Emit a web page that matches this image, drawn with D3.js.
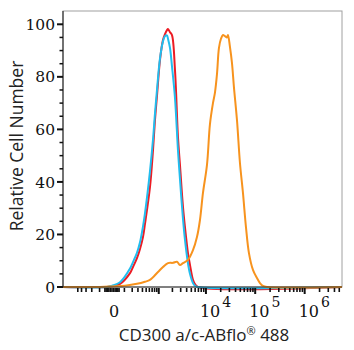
<!DOCTYPE html>
<html>
<head>
<meta charset="utf-8">
<script src="https://cdn.jsdelivr.net/npm/d3@7"></script>
<style>
  html, body { margin: 0; padding: 0; background: #fff; }
  svg { display: block; }
</style>
</head>
<body>
<svg id="chart" width="354" height="350"></svg>
<script>
// ---------- data (fluorescence intensity vs relative cell number) ----------
const controlX = [-1122, -34, 0, 58, 168, 212, 281, 343, 413, 466, 621, 734, 818, 910, 1066, 1244, 1379, 1524, 1604, 1773, 1958, 2270, 2629, 2898, 3350, 3689, 4261, 4689, 5411, 5948, 6861, 5680000];
const redY = [0, 0, 0.3, 1.2, 5.3, 7.6, 11, 14.5, 19, 24, 38, 52, 63.6, 72.7, 86.4, 94, 96.3, 97.8, 98.2, 97, 95.9, 82.6, 57, 46.4, 30.5, 22.8, 12.9, 8.4, 2.7, 1.1, 0, 0];
const blueY = [0, 0, 0.5, 1.8, 7, 9.5, 13, 17, 23, 28, 44, 56, 66, 75, 87, 93.5, 95.5, 95.8, 94.5, 91, 84, 72, 52, 41, 26, 18, 9, 5, 1.5, 0.5, 0, 0];

const stainedX = [-1122, -96, 0, 106, 281, 466, 621, 960, 1244, 1604, 2057, 2503, 2898, 3350, 4261, 5411, 6541, 7543, 8690, 10500, 12080, 13910, 15280, 16790, 18430, 20250, 22230, 24400, 26800, 28070, 30820, 33840, 37150, 42750, 49160, 56540, 65050, 74780, 90120, 108550, 124850, 143600, 172900, 5680000];
const orangeY = [0, 0, 0.2, 0.5, 1.2, 2, 2.7, 5.7, 7.6, 9.1, 9.2, 9.6, 8.4, 9.1, 10.3, 14, 19, 25.5, 35.8, 46.5, 62, 70, 74, 81, 91, 94.5, 95.9, 95.5, 95, 95.9, 91.4, 85.3, 76, 63.6, 47.2, 35.8, 22.8, 12.9, 6.5, 3.4, 1.5, 0.4, 0, 0];

const yMajorTicks = [0, 20, 40, 60, 80, 100];
const yMinorTicks = [5, 10, 15, 25, 30, 35, 45, 50, 55, 65, 70, 75, 85, 90, 95];
const xMajorTicks = [1000, 10000, 100000, 1000000];
const xMinorTicks = [-500, -400, -300, -200, -100, -50, -40, -30, -20, -10, 0, 10, 20, 30, 40, 50,
  100, 200, 300, 400, 500, 600, 700, 800, 900,
  2000, 3000, 4000, 5000, 6000, 7000, 8000, 9000,
  20000, 30000, 40000, 50000, 60000, 70000, 80000, 90000,
  200000, 300000, 400000, 500000, 600000, 700000, 800000, 900000,
  2000000, 3000000, 4000000, 5000000];
const xLabels = [{v: 0, base: "0", exp: ""}, {v: 10000, base: "10", exp: "4"}, {v: 100000, base: "10", exp: "5"}, {v: 1000000, base: "10", exp: "6"}];
const colors = {red: "#ec1c24", blue: "#22bdee", orange: "#f7931e"};

// ---------- layout ----------
const mLeft = 63, mRight = 342, mTop = 11, mBottom = 287;
const svg = d3.select("#chart");

const x = d3.scaleSymlog().constant(128).domain([-1122, 5680000]).range([mLeft, mRight]);
const y = d3.scaleLinear().domain([0, 100]).range([mBottom, 24.3]);

// frame
svg.append("rect").attr("x", mLeft).attr("y", mTop).attr("width", mRight - mLeft).attr("height", mBottom - mTop)
  .attr("fill", "none").attr("stroke", "#a0a0a0").attr("stroke-width", 1);

// curves
const line = d3.line().x(d => x(d[0])).y(d => y(d[1])).curve(d3.curveCatmullRom.alpha(0.5));
function drawCurve(xs, ys, color) {
  svg.append("path").datum(d3.zip(xs, ys)).attr("d", line)
    .attr("fill", "none").attr("stroke", color).attr("stroke-width", 2).attr("stroke-linejoin", "round");
}
drawCurve(controlX, redY, colors.red);
drawCurve(controlX, blueY, colors.blue);
drawCurve(stainedX, orangeY, colors.orange);

// y axis
svg.append("line").attr("x1", mLeft).attr("x2", mLeft).attr("y1", mTop).attr("y2", mBottom)
  .attr("stroke", "#333").attr("stroke-width", 1.2);
svg.selectAll(".ymaj").data(yMajorTicks).enter().append("line")
  .attr("x1", mLeft - 6).attr("x2", mLeft).attr("y1", d => y(d)).attr("y2", d => y(d))
  .attr("stroke", "#111").attr("stroke-width", 2);
svg.selectAll(".ymin").data(yMinorTicks).enter().append("line")
  .attr("x1", mLeft - 3.5).attr("x2", mLeft).attr("y1", d => y(d)).attr("y2", d => y(d))
  .attr("stroke", "#111").attr("stroke-width", 1.5);
svg.selectAll(".ylab").data(yMajorTicks).enter().append("text")
  .attr("x", 55).attr("y", d => y(d)).attr("dy", "0.36em")
  .attr("text-anchor", "end").attr("font-family", "DejaVu Serif").attr("font-size", 15.5)
  .attr("fill", "#111").text(d => d);

// x axis
svg.append("line").attr("x1", mLeft).attr("x2", mRight).attr("y1", mBottom).attr("y2", mBottom)
  .attr("stroke", "#333").attr("stroke-width", 1);
svg.selectAll(".xmin").data(xMinorTicks).enter().append("line")
  .attr("x1", d => x(d)).attr("x2", d => x(d)).attr("y1", mBottom + 1).attr("y2", mBottom + 5)
  .attr("stroke", "#111").attr("stroke-width", 1.6);
svg.selectAll(".xmaj").data(xMajorTicks).enter().append("line")
  .attr("x1", d => x(d)).attr("x2", d => x(d)).attr("y1", mBottom + 1).attr("y2", mBottom + 7)
  .attr("stroke", "#111").attr("stroke-width", 2);

const xl = svg.selectAll(".xlab").data(xLabels).enter().append("text")
  .attr("x", d => d.exp ? x(d.v) - 6 : x(d.v) + 2).attr("y", 317)
  .attr("text-anchor", d => d.exp ? "start" : "middle")
  .attr("font-family", "DejaVu Serif").attr("font-size", 16).attr("fill", "#111");
xl.append("tspan").text(d => d.base);
xl.append("tspan").attr("dx", 2).attr("dy", -10).attr("font-size", 14).text(d => d.exp);

// titles
svg.append("text").attr("x", 204).attr("y", 341).attr("text-anchor", "middle")
  .attr("font-family", "Open Sans").attr("font-size", 17).attr("fill", "#222")
  .call(t => {
    t.append("tspan").text("CD300 a/c-ABflo");
    t.append("tspan").attr("font-size", 11).attr("dy", -6).text("®");
    t.append("tspan").attr("dy", 6).text(" 488");
  });
svg.append("text").attr("transform", "translate(23,146) rotate(-90)").attr("text-anchor", "middle")
  .attr("font-family", "Open Sans").attr("font-size", 17.5).attr("fill", "#222")
  .text("Relative Cell Number");
</script>
</body>
</html>
